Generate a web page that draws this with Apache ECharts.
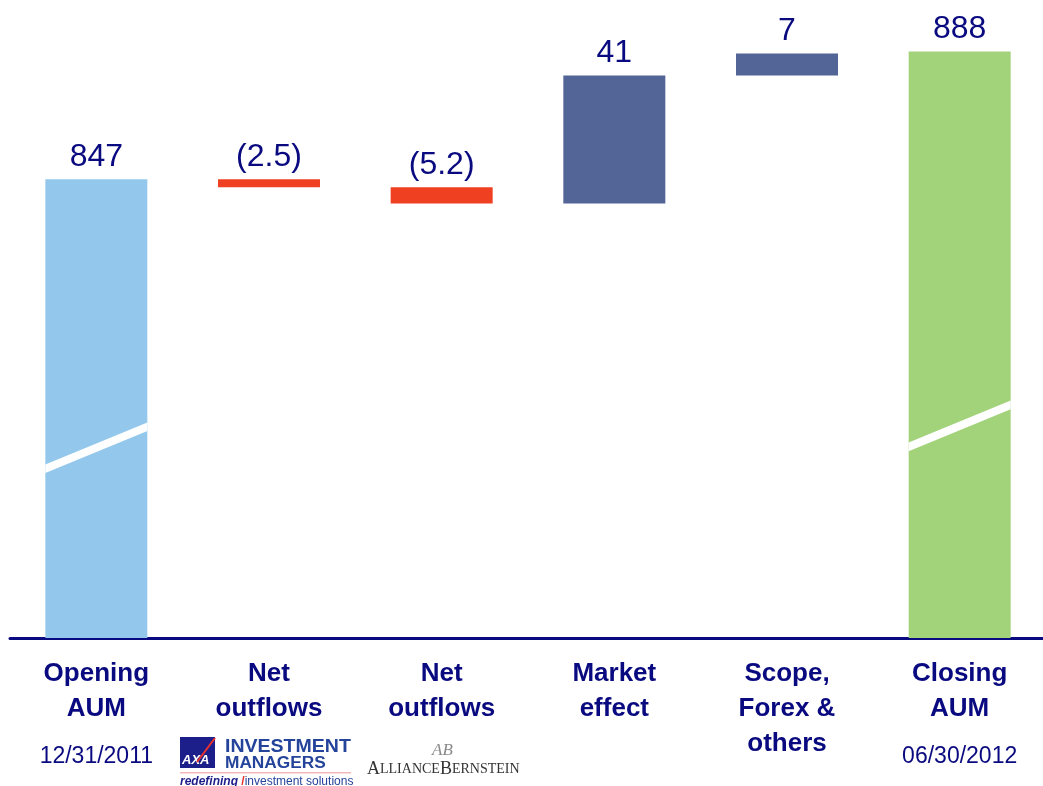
<!DOCTYPE html>
<html>
<head>
<meta charset="utf-8">
<title>AUM bridge</title>
<script src="https://cdn.jsdelivr.net/npm/echarts@6/dist/echarts.min.js"></script>
<style>
  html, body { margin: 0; padding: 0; background: #ffffff; overflow: hidden; }
  #chart { width: 1050px; height: 786px; }
</style>
</head>
<body>
<div id="chart"></div>
<script>
// Bridge categories and movements (EUR bn)
var categories = ['Opening\nAUM', 'Net\noutflows', 'Net\noutflows', 'Market\neffect', 'Scope,\nForex &\nothers', 'Closing\nAUM'];
var kinds = ['total', 'delta', 'delta', 'delta', 'delta', 'total'];
var values = [847, -2.5, -5.2, 41, 7, 888];
var valueLabels = ['847', '(2.5)', '(5.2)', '41', '7', '888'];
var dateLabels = ['12/31/2011', '', '', '', '', '06/30/2012'];
var barColors = ['#93C8EC', '#F04022', '#F04022', '#536496', '#536496', '#A2D37A'];
// value levels where the axis-break slash crosses the two total bars
var breakLevels = [[0, 761], [5, 768]];

var NAVY = '#0A0A80';
var FONT = '"Liberation Sans", Arial, sans-serif';

// Build invisible base + visible segment for a waterfall
var baseData = [];
var segData = [];
var running = 0;
for (var i = 0; i < values.length; i++) {
  if (kinds[i] === 'total') {
    running = values[i];
    baseData.push(0);
    segData.push({ value: values[i], itemStyle: { color: barColors[i] } });
  } else {
    var v = values[i];
    var low = v < 0 ? running + v : running;
    baseData.push(low);
    segData.push({ value: Math.abs(v), itemStyle: { color: barColors[i] } });
    running += v;
  }
}

var chart = echarts.init(document.getElementById('chart'), null, { renderer: 'canvas' });

var option = {
  animation: false,
  backgroundColor: '#ffffff',
  grid: { left: 10, width: 1036, top: 14, bottom: 148, containLabel: false },
  xAxis: {
    type: 'category',
    data: categories,
    axisLine: { lineStyle: { color: NAVY, width: 3 } },
    axisTick: { show: false },
    axisLabel: {
      interval: 0,
      margin: 18,
      verticalAlign: 'top',
      formatter: function (val, idx) {
        var lines = val.split('\n').map(function (s) { return '{c|' + s + '}'; });
        if (dateLabels[idx]) lines.push('{d|' + dateLabels[idx] + '}');
        return lines.join('\n');
      },
      rich: {
        c: { fontFamily: FONT, fontWeight: 'bold', fontSize: 26, color: NAVY, lineHeight: 35 },
        d: { fontFamily: FONT, fontSize: 23, color: NAVY, lineHeight: 61 }
      }
    }
  },
  yAxis: {
    type: 'value',
    min: 700,
    max: 900,
    show: false,
    splitLine: { show: false }
  },
  series: [
    {
      type: 'bar',
      stack: 'wf',
      data: baseData,
      barWidth: 102,
      clip: true,
      itemStyle: { color: 'rgba(0,0,0,0)' },
      silent: true
    },
    {
      type: 'bar',
      stack: 'wf',
      data: segData,
      barWidth: 102,
      clip: true,
      label: {
        show: true,
        position: 'top',
        distance: 6,
        fontFamily: FONT,
        fontSize: 32,
        color: NAVY,
        formatter: function (p) { return valueLabels[p.dataIndex]; }
      }
    },
    {
      // white slash marking the broken value axis on the total bars
      type: 'custom',
      data: breakLevels,
      z: 10,
      renderItem: function (params, api) {
        var c = api.coord([api.value(0), api.value(1)]);
        var w = api.size([1, 0])[0] * 0.591;
        var x0 = c[0] - w / 2, x1 = c[0] + w / 2;
        var rise = 21, half = 4.3;
        return {
          type: 'polygon',
          shape: {
            points: [
              [x0, c[1] + rise - half],
              [x1, c[1] - rise - half],
              [x1, c[1] - rise + half],
              [x0, c[1] + rise + half]
            ]
          },
          style: { fill: '#ffffff' }
        };
      }
    }
  ],
  graphic: [
    // AXA Investment Managers logo
    { type: 'rect', left: 180, top: 737, shape: { width: 35, height: 31 }, style: { fill: '#1C1F8A' } },
    { type: 'text', left: 182, top: 754, style: { text: 'AXA', fill: '#ffffff', font: 'italic bold 13px ' + FONT } },
    { type: 'line', shape: { x1: 197, y1: 762, x2: 215, y2: 738 }, style: { stroke: '#E8312F', lineWidth: 2 } },
    { type: 'text', x: 225, y: 738, scaleX: 1.085, style: { text: 'INVESTMENT', fill: '#24439A', font: 'bold 18px ' + FONT } },
    { type: 'text', x: 225, y: 756, scaleX: 1.08, style: { text: 'MANAGERS', fill: '#24439A', font: 'bold 16px ' + FONT } },
    { type: 'rect', left: 180, top: 772, shape: { width: 171, height: 1.5 }, style: { fill: '#F3B9B9' } },
    {
      type: 'text', left: 180, top: 776,
      style: {
        text: '{b|redefining} {r|/}{n|investment solutions}',
        rich: {
          b: { font: 'bold italic 12px ' + FONT, fill: '#1C1F8A' },
          r: { font: 'bold 12px ' + FONT, fill: '#E8312F' },
          n: { font: '12px ' + FONT, fill: '#24439A' }
        }
      }
    },
    // AllianceBernstein logo
    { type: 'text', left: 432, top: 742, style: { text: 'AB', fill: '#8A8A8A', font: 'italic 17px "Liberation Serif", serif' } },
    {
      type: 'text', left: 367, top: 760,
      style: {
        text: '{a|A}{s|LLIANCE}{a|B}{s|ERNSTEIN}',
        rich: {
          a: { font: '18px "Liberation Serif", serif', fill: '#333333' },
          s: { font: '14px "Liberation Serif", serif', fill: '#333333' }
        }
      }
    }
  ]
};

chart.setOption(option);
</script>
</body>
</html>
